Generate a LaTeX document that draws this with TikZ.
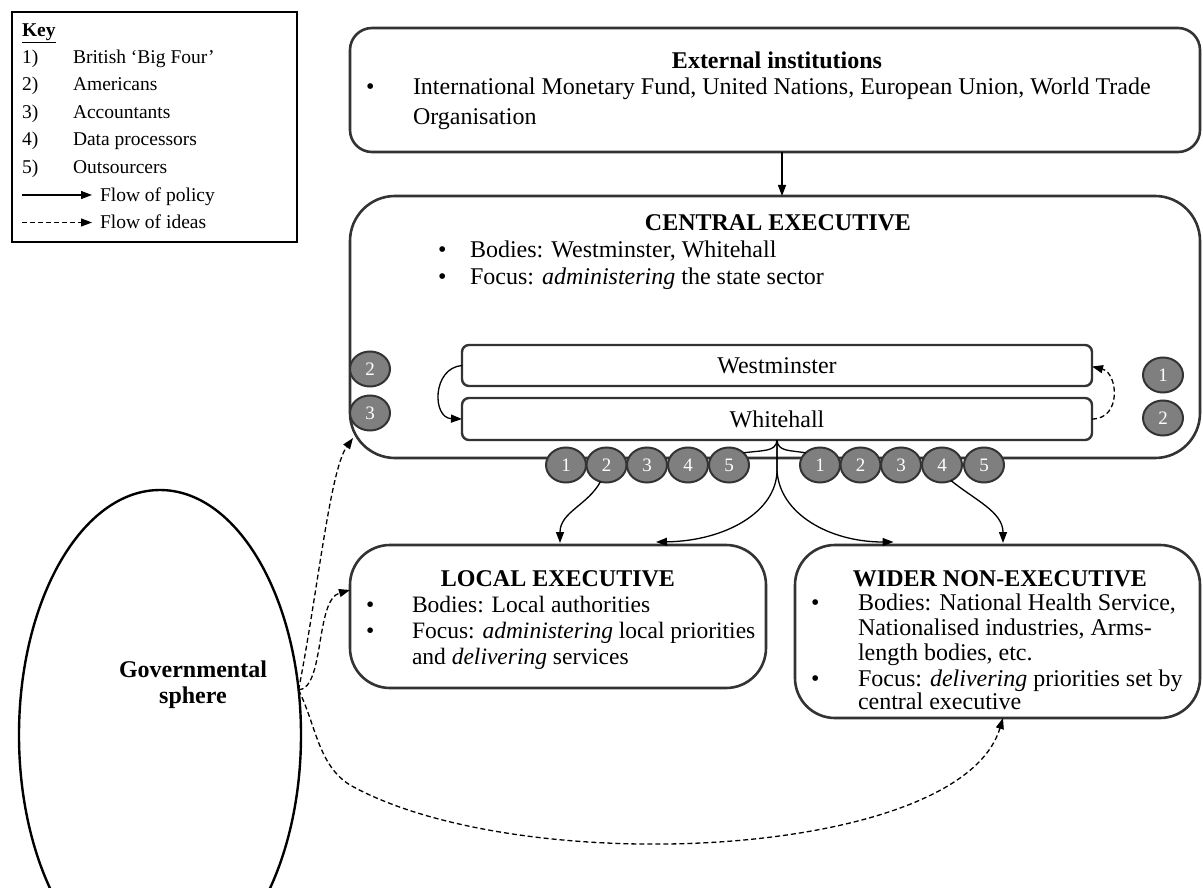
\documentclass[tikz,border=0pt]{standalone}
\usepackage{fontspec}
\setmainfont{Liberation Serif}
\usetikzlibrary{arrows.meta,shapes.geometric,calc}
\definecolor{edge}{HTML}{333333}
\definecolor{discfill}{HTML}{7F7F7F}
\newcommand\txtsize{\fontsize{24}{28}\selectfont}
\newcommand\locsize{\fontsize{23.5}{28}\selectfont}
\newcommand\keysize{\fontsize{19.5}{24}\selectfont}
\newcommand\numsize{\fontsize{19}{22}\selectfont}
\begin{document}
\begin{tikzpicture}[x=1pt,y=-1pt,
  every node/.style={inner sep=0pt, outer sep=0pt},
  panel/.style={rectangle, draw=edge, line width=2.6pt},
  bar/.style={rectangle, draw=edge, line width=2.4pt, rounded corners=7pt,
    minimum width=630pt, font=\txtsize},
  disc/.style={ellipse, draw=edge, line width=2pt, fill=discfill, text=white,
    minimum width=40pt, minimum height=35pt, font=\numsize},
  ln/.style={anchor=base west, font=\txtsize},
  lln/.style={anchor=base west, font=\locsize},
  kl/.style={anchor=base west, font=\keysize},
  ttl/.style={anchor=base, font=\txtsize\bfseries},
  policy/.style={draw=black, line width=1.3pt, -{Triangle[length=11pt,width=8pt]}},
  ideas/.style={policy, dash pattern=on 5pt off 3pt},
]
\useasboundingbox (0,0) rectangle (1203,888);

% ---------- key ----------
\node[panel, draw=black, line width=1.4pt, minimum width=285pt, minimum height=230pt] (key) at (154.5,127) {};
\node[anchor=base west, font=\keysize\bfseries] (keyhead) at (22,37) {\underline{Key}};
\node[kl] (n1) at (22,63.5) {1)};  \node[kl] (k1) at (73,63.5) {British `Big Four'};
\node[kl] (n2) at (22,91) {2)};    \node[kl] (k2) at (73,91) {Americans};
\node[kl] (n3) at (22,118.5) {3)}; \node[kl] (k3) at (73,118.5) {Accountants};
\node[kl] (n4) at (22,146) {4)};   \node[kl] (k4) at (73,146) {Data processors};
\node[kl] (n5) at (22,173.5) {5)}; \node[kl] (k5) at (73,173.5) {Outsourcers};
\coordinate (pa) at (22,195); \coordinate (pb) at (92,195);
\draw[policy] (pa) -- (pb);
\node[kl] (kp) at (100,201) {Flow of policy};
\coordinate (ia) at (22,222.5); \coordinate (ib) at (92,222.5);
\draw[ideas] (ia) -- (ib);
\node[kl] (ki) at (100,228.5) {Flow of ideas};

% ---------- external institutions ----------
\node[panel, rounded corners=22pt, minimum width=850pt, minimum height=124pt] (ext) at (775,90) {};
\node[ttl] (extt) at (777,69) {External institutions};
\node[ln] (extb) at (366,95) {\textbullet};
\node[ln] (ext1) at (413,95) {International Monetary Fund, United Nations, European Union, World Trade};
\node[ln] (ext2) at (413,125) {Organisation};

% ---------- central executive ----------
\node[panel, rounded corners=45pt, minimum width=850pt, minimum height=262pt] (central) at (775,327) {};
\node[ttl] (centt) at (778,230) {CENTRAL EXECUTIVE};
\node[ln] (cb1) at (438,257) {\textbullet};
\node[ln] (c1) at (470,257) {Bodies: Westminster, Whitehall};
\node[ln] (cb2) at (438,284) {\textbullet};
\node[ln] (c2) at (470,284) {Focus: \textit{administering} the state sector};

\draw[policy] ($(ext.south)+(7,0)$) -- ($(central.north)+(7,0)$);

\node[bar, minimum height=41pt] (wm) at (777,365.5) {Westminster};
\node[bar, minimum height=42pt] (wh) at (777,419) {Whitehall};

\node[disc] (lw2) at (370,369) {2};
\node[disc] (lw3) at (370,413) {3};
\node[disc] (rw1) at (1163,375) {1};
\node[disc] (rw2) at (1163,418) {2};

\draw[policy] (wm.west) .. controls (432,368) and (432,418) .. (wh.west);
\draw[ideas] (wh.east) .. controls (1122,419) and (1118,373) .. ($(wm.east)+(0,1)$);

% ---------- local and wider bodies ----------
\node[panel, rounded corners=40pt, minimum width=416pt, minimum height=143pt] (local) at (558,616.5) {};
\node[ttl] (loct) at (558,586) {LOCAL EXECUTIVE};
\node[lln] (lb1) at (366,612) {\textbullet};
\node[lln] (l1) at (412,612) {Bodies: Local authorities};
\node[lln] (lb2) at (366,638) {\textbullet};
\node[lln] (l2) at (412,638) {Focus: \textit{administering} local priorities};
\node[lln] (l3) at (412,664) {and \textit{delivering} services};

\node[panel, rounded corners=40pt, minimum width=405pt, minimum height=173pt] (wider) at (997.5,631.5) {};
\node[ttl] (widt) at (1000,586) {WIDER NON-EXECUTIVE};
\node[ln] (wb1) at (811,610) {\textbullet};
\node[ln] (w1) at (858,610) {Bodies: National Health Service,};
\node[ln] (w2) at (858,635) {Nationalised industries, Arms-};
\node[ln] (w3) at (858,660) {length bodies, etc.};
\node[ln] (wb2) at (811,686) {\textbullet};
\node[ln] (w4) at (858,686) {Focus: \textit{delivering} priorities set by};
\node[ln] (w5) at (858,709) {central executive};

% ---------- flows out of Whitehall ----------
\coordinate (fork) at (wh.south);
\draw[policy] (fork) -- (777,470) .. controls (777,512) and (725,541) .. ($(local.north)+(98,-3)$);
\draw[policy] (fork) -- (777,470) .. controls (779,514) and (830,542) .. ($(wider.north)+(-104,-3)$);

\foreach \n/\x in {1/566,2/606.5,3/647,4/688,5/729}{
  \node[disc] (lc\n) at (\x,465) {\n};
}
\foreach \n/\x in {1/820,2/860.5,3/901,4/942,5/984}{
  \node[disc] (rc\n) at (\x,465) {\n};
}
\draw[black, line width=1.3pt] (fork) .. controls (776,452) and (764,450) .. (lc5.40);
\draw[black, line width=1.3pt] (fork) .. controls (778,452) and (790,450) .. (rc1.140);
\draw[policy] (lc2.250) .. controls (588,505) and (560,512) .. ($(local.north)+(2,-2)$);
\draw[policy] (rc4.-60) .. controls (975,500) and (1003,512) .. ($(wider.north)+(5.5,-2)$);

% ---------- governmental sphere ----------
\node[ellipse, draw=black, line width=2.4pt, minimum width=282pt, minimum height=490pt] (gov) at (160,735) {};
\node[font=\fontsize{24}{26}\selectfont\bfseries, align=center] (govt) at (193,685) {Governmental\\sphere};

\draw[ideas] (gov.18) .. controls (318,590) and (330,470) .. ($(central.west)+(3,111)$);
\draw[ideas] (gov.18) .. controls (325,688) and (315,600) .. ($(local.west)+(0,-26.5)$);
\draw[ideas] (gov.18) .. controls (316,725) and (318,765) .. (350,785)
  .. controls (520,880) and (960,860) .. ($(wider.south)+(5.5,0)$);
\end{tikzpicture}
\end{document}
